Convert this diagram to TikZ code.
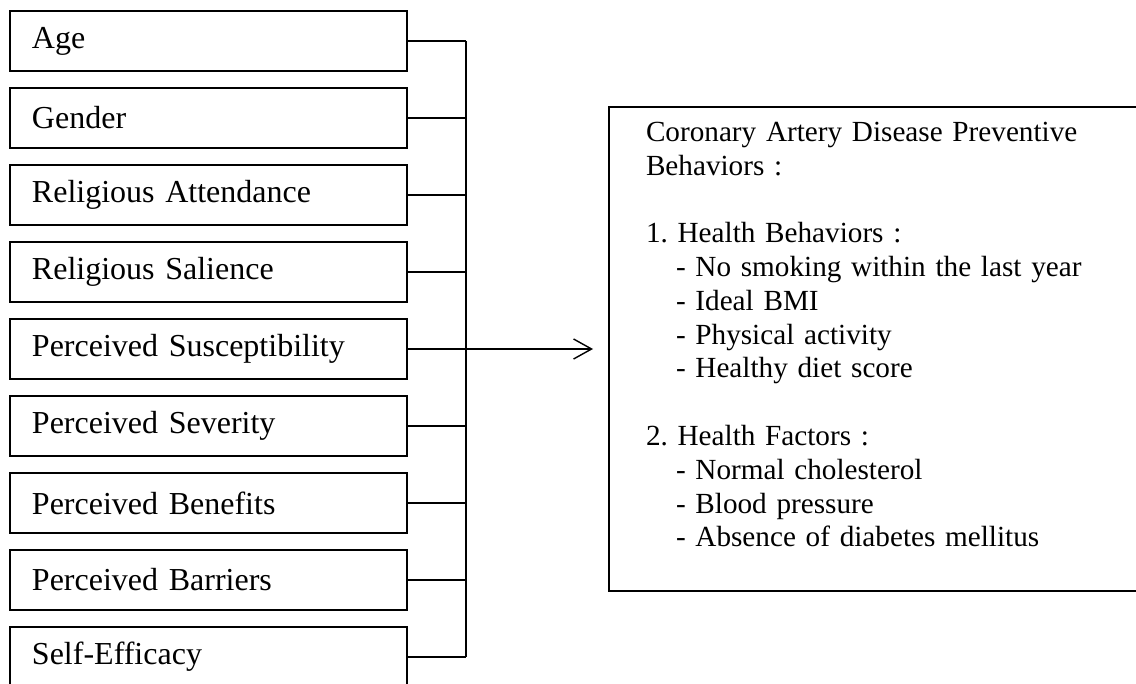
\documentclass[tikz,border=0pt]{standalone}
\usepackage{fontspec}
\setmainfont{Liberation Serif}
\usetikzlibrary{arrows.meta,positioning}
\frenchspacing

\begin{document}
\begin{tikzpicture}[
    node distance=7.5pt,
    factor/.style={draw,line width=1pt,align=left,text width=176.5pt,inner xsep=11pt,minimum height=30pt,font=\fontsize{16}{19}\selectfont},
    outcome/.style={draw,line width=1pt,align=left,text width=229pt,inner xsep=18.5pt,inner ysep=7.5pt,font=\fontsize{14.6}{16.9}\selectfont},
    link/.style={line width=0.7pt},
    arr/.style={-{Straight Barb[length=9pt,width=10pt]},line width=0.7pt,shorten >=7.5pt}
]
\useasboundingbox (0,0) rectangle (568pt,-342pt);
\clip (0,0) rectangle (568pt,-342pt);
\node[factor,anchor=north west] (age) at (4.5pt,-5pt) {Age};
\node[factor,below=of age] (gender) {Gender};
\node[factor,below=of gender] (attend) {Religious Attendance};
\node[factor,below=of attend] (salience) {Religious Salience};
\node[factor,below=of salience] (suscept) {Perceived Susceptibility};
\node[factor,below=of suscept] (severity) {Perceived Severity};
\node[factor,below=of severity] (benefit) {Perceived Benefits};
\node[factor,below=of benefit] (barrier) {Perceived Barriers};
\node[factor,below=of barrier] (efficacy) {Self-Efficacy};
\coordinate[right=29pt of age] (bus);
\node[outcome,right=100pt of suscept] (cad) {Coronary Artery Disease Preventive\\Behaviors :\\[16.9pt]
1. Health Behaviors :\\
\hspace*{15pt}- No smoking within the last year\\
\hspace*{15pt}- Ideal BMI\\
\hspace*{15pt}- Physical activity\\
\hspace*{15pt}- Healthy diet score\\[16.9pt]
2. Health Factors :\\
\hspace*{15pt}- Normal cholesterol\\
\hspace*{15pt}- Blood pressure\\
\hspace*{15pt}- Absence of diabetes mellitus\\[-2.4pt]\mbox{}};
\draw[link] (age.east) -- (age.east -| bus);
\draw[link] (gender.east) -- (gender.east -| bus);
\draw[link] (attend.east) -- (attend.east -| bus);
\draw[link] (salience.east) -- (salience.east -| bus);
\draw[link] (severity.east) -- (severity.east -| bus);
\draw[link] (benefit.east) -- (benefit.east -| bus);
\draw[link] (barrier.east) -- (barrier.east -| bus);
\draw[link] (efficacy.east) -- (efficacy.east -| bus);
\draw[link] (bus) -- (bus |- efficacy.east);
\draw[arr] (suscept.east) -- (cad.west);
\end{tikzpicture}
\end{document}
